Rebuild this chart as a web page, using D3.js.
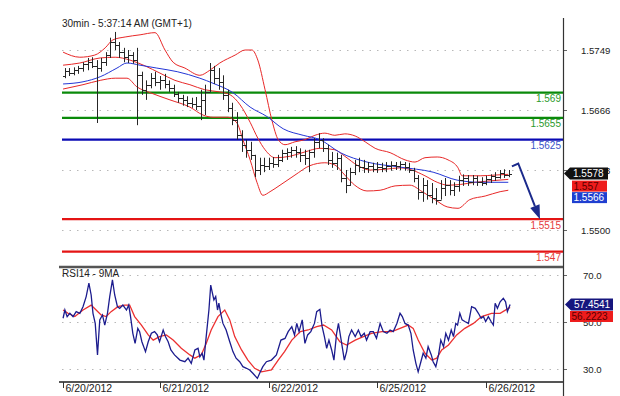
<!DOCTYPE html>
<html><head><meta charset="utf-8">
<script src="https://cdn.jsdelivr.net/npm/d3@7"></script>
<style>html,body{margin:0;padding:0;background:#fff}svg{display:block;font-family:"Liberation Sans",Arial,sans-serif}</style>
</head><body><svg id="c" width="620" height="396"></svg>
<script>
// ---- DATA (time = trading hours since 6/20/2012 00:00, weekend skipped) ----
const barHours = [3,4,5,6,7,8,9,10,11,12,13,14,15,16,17,18,19,20,21,22,23,24,25,26,27,28,29,30,31,32,33,34,35,36,37,38,39,40,41,42,43,44,45,46,47,48,49,50,51,52,53,54,55,56,57,58,59,60,61,62,63,64,65,66,67,68,69,70,71,72,73,74,75,76,77,78,79,80,81,82,83,84,85,86,87,88,89,90,91,92,93,94,95,96,97,98,99,100,101];
const barHigh = [1.5724,1.5724,1.5725,1.5727,1.5732,1.5738,1.5739,1.5735,1.5738,1.5746,
 1.5766,1.5774,1.5760,1.5752,1.5749,1.5746,1.5752,1.5719,1.5707,1.5717,
 1.5719,1.5713,1.5716,1.5707,1.5701,1.5691,1.5687,1.5685,1.5683,1.5684,
 1.5694,1.5701,1.5731,1.5727,1.5724,1.5714,1.5694,1.5676,1.5663,1.5638,
 1.5625,1.5622,1.5604,1.5600,1.5600,1.5600,1.5601,1.5604,1.5611,1.5613,
 1.5615,1.5616,1.5613,1.5611,1.5611,1.5627,1.5634,1.5627,1.5618,1.5608,
 1.5607,1.5604,1.5583,1.5586,1.5597,1.5600,1.5597,1.5594,1.5593,1.5594,
 1.5593,1.5594,1.5595,1.5594,1.5595,1.5594,1.5593,1.5586,1.5576,1.5572,
 1.5569,1.5565,1.5558,1.5569,1.5572,1.5569,1.5566,1.5575,1.5577,1.5576,
 1.5576,1.5575,1.5573,1.5575,1.5577,1.5580,1.5583,1.5584,1.5583];
const barLow = [1.5710,1.5713,1.5714,1.5716,1.5719,1.5721,1.5724,1.5648,1.5719,1.5727,
 1.5738,1.5749,1.5738,1.5732,1.5731,1.5730,1.5645,1.5687,1.5680,1.5696,
 1.5699,1.5694,1.5696,1.5691,1.5684,1.5676,1.5672,1.5670,1.5669,1.5666,
 1.5652,1.5659,1.5691,1.5702,1.5694,1.5680,1.5663,1.5645,1.5625,1.5608,
 1.5600,1.5597,1.5573,1.5576,1.5580,1.5583,1.5586,1.5587,1.5594,1.5597,
 1.5600,1.5600,1.5594,1.5590,1.5580,1.5600,1.5613,1.5608,1.5590,1.5586,
 1.5583,1.5566,1.5551,1.5561,1.5576,1.5580,1.5579,1.5579,1.5580,1.5579,
 1.5580,1.5580,1.5582,1.5583,1.5583,1.5582,1.5579,1.5566,1.5542,1.5539,
 1.5542,1.5537,1.5535,1.5542,1.5547,1.5548,1.5547,1.5553,1.5561,1.5561,
 1.5562,1.5561,1.5561,1.5562,1.5565,1.5568,1.5571,1.5572,1.5573];
const barOpen = [1.5713,1.5720,1.5717,1.5721,1.5724,1.5730,1.5732,1.5727,1.5724,1.5732,
 1.5742,1.5760,1.5756,1.5746,1.5739,1.5742,1.5735,1.5714,1.5694,1.5701,
 1.5710,1.5705,1.5707,1.5702,1.5696,1.5688,1.5683,1.5680,1.5676,1.5674,
 1.5672,1.5680,1.5691,1.5721,1.5710,1.5705,1.5687,1.5669,1.5652,1.5631,
 1.5618,1.5611,1.5604,1.5583,1.5590,1.5589,1.5593,1.5591,1.5597,1.5607,
 1.5608,1.5611,1.5608,1.5604,1.5600,1.5608,1.5622,1.5625,1.5613,1.5597,
 1.5593,1.5600,1.5572,1.5562,1.5580,1.5590,1.5587,1.5586,1.5589,1.5584,
 1.5587,1.5586,1.5589,1.5590,1.5589,1.5591,1.5587,1.5583,1.5572,1.5553,
 1.5562,1.5548,1.5544,1.5542,1.5558,1.5562,1.5555,1.5561,1.5569,1.5572,
 1.5566,1.5572,1.5566,1.5565,1.5571,1.5575,1.5573,1.5579,1.5576];
const barClose = [1.5720,1.5717,1.5721,1.5724,1.5730,1.5732,1.5727,1.5724,1.5732,1.5742,
 1.5760,1.5756,1.5746,1.5739,1.5742,1.5735,1.5714,1.5694,1.5701,1.5710,
 1.5705,1.5707,1.5702,1.5696,1.5688,1.5683,1.5680,1.5676,1.5674,1.5672,
 1.5680,1.5691,1.5721,1.5710,1.5705,1.5687,1.5669,1.5652,1.5631,1.5618,
 1.5611,1.5604,1.5583,1.5590,1.5589,1.5593,1.5591,1.5597,1.5607,1.5608,
 1.5611,1.5608,1.5604,1.5600,1.5608,1.5622,1.5625,1.5613,1.5597,1.5593,
 1.5600,1.5572,1.5562,1.5580,1.5590,1.5587,1.5586,1.5589,1.5584,1.5587,
 1.5586,1.5589,1.5590,1.5589,1.5591,1.5587,1.5583,1.5572,1.5553,1.5562,
 1.5548,1.5544,1.5542,1.5558,1.5562,1.5555,1.5561,1.5569,1.5572,1.5566,
 1.5572,1.5566,1.5565,1.5571,1.5575,1.5573,1.5579,1.5576,1.5578];

// Bollinger bands
const upperT = [2.6,6.3,9.6,11.9,13.6,16.3,19.6,22.9,25.1,26.9,29.5,32.8,35.0,37.2,40.6,42.8,44.3,45.6,47.2,48.7,50.1,51.6,53.8,56.0,58.2,60.4,62.6,64.8,67.1,69.3,71.5,74.8,78.1,80.3,82.5,85.2,87.6,89.8,90.7,94.7,98.0,100.9];
const upperV = [1.5746,1.5739,1.5742,1.5752,1.5763,1.5767,1.5770,1.5773,1.5749,1.5732,1.5724,1.5714,1.5721,1.5731,1.5742,1.5749,1.5749,1.5735,1.5694,1.5652,1.5625,1.5618,1.5622,1.5625,1.5631,1.5634,1.5631,1.5633,1.5630,1.5622,1.5613,1.5607,1.5597,1.5594,1.5600,1.5601,1.5597,1.5586,1.5575,1.5575,1.5576,1.5577];
const midT = [2.6,6.3,10.8,14.1,17.4,20.7,24.0,27.3,30.6,33.9,37.2,39.5,41.7,43.9,45.6,47.2,49.4,52.7,56.0,59.3,62.6,64.8,67.7,70.4,73.7,77.0,79.6,82.5,85.2,87.6,90.3,93.6,96.9,100.9];
const midV = [1.5728,1.5731,1.5738,1.5739,1.5735,1.5727,1.5717,1.5707,1.5701,1.5694,1.5691,1.5687,1.5673,1.5649,1.5627,1.5611,1.5600,1.5602,1.5608,1.5613,1.5611,1.5602,1.5589,1.5583,1.5584,1.5586,1.5583,1.5575,1.5566,1.5562,1.5563,1.5566,1.5568,1.5570];
const lowT = [2.6,7.0,10.8,14.1,16.7,18.9,21.8,26.2,30.6,33.5,35.7,39.0,41.0,42.3,43.9,45.4,46.7,48.3,50.5,53.8,57.1,60.4,62.6,64.8,67.0,69.7,72.6,75.9,79.2,81.9,84.7,87.4,89.8,92.4,95.8,99.1,100.9];
const lowV = [1.5695,1.5701,1.5707,1.5710,1.5710,1.5698,1.5690,1.5680,1.5670,1.5659,1.5656,1.5656,1.5648,1.5625,1.5597,1.5566,1.5548,1.5553,1.5562,1.5576,1.5589,1.5593,1.5590,1.5576,1.5562,1.5554,1.5555,1.5561,1.5562,1.5553,1.5542,1.5532,1.5530,1.5542,1.5547,1.5553,1.5555];
// longer moving average (blue)
const maT = [2.6,7.0,10.8,14.5,16.7,19.6,23.3,27.8,32.8,35.7,40.1,43.9,47.6,51.2,55.6,59.3,63.8,69.7,77.0,84.3,89.6,94.7,100.9];
const maV = [1.5702,1.5705,1.5712,1.5724,1.5731,1.5728,1.5724,1.5719,1.5710,1.5703,1.5690,1.5670,1.5657,1.5640,1.5631,1.5625,1.5607,1.5594,1.5587,1.5580,1.5569,1.5566,1.5566];

// horizontal levels
const levelValues = [1.569, 1.5655, 1.5625, 1.5515, 1.547];
const levelLabels = ["1.569", "1.5655", "1.5625", "1.5515", "1.547"];
const levelKinds = ["resistance","resistance","pivot","support","support"];
// forecast arrow (time, price)
const arrowT = [101.7, 103.1, 107.9];
const arrowV = [1.5588, 1.5592, 1.5515];

// price axis
const priceTicks = [1.5749, 1.5666, 1.5583, 1.5500];
const priceTickLabels = ["1.5749", "1.5666", "1.5583", "1.5500"];

// RSI 14 and its 9MA
const rsiT = [2.6,3.0,3.5,4.1,4.8,5.5,6.3,7.0,7.7,8.3,
 8.8,9.2,9.7,10.2,10.7,11.3,11.8,12.4,12.9,13.5,
 14.0,14.6,15.1,15.8,16.6,17.1,17.5,18.0,18.5,19.1,
 19.5,20.0,20.8,21.4,22.1,22.8,23.4,23.9,24.7,25.2,
 25.8,26.4,27.2,28.4,29.5,30.2,30.9,31.7,32.4,32.8,
 33.3,33.7,34.2,34.8,35.2,35.5,35.9,36.3,36.7,37.0,
 37.4,37.9,38.6,39.4,40.1,40.8,41.6,42.3,43.1,43.8,
 44.5,45.5,46.0,46.7,47.5,48.6,49.7,50.7,51.6,52.3,
 53.1,53.7,54.2,54.7,55.4,56.0,56.6,57.3,58.1,58.6,
 59.3,59.8,60.3,60.8,61.3,61.9,62.4,63.0,63.4,64.0,
 64.7,65.2,65.7,66.3,67.1,67.8,68.4,69.1,69.6,70.4,
 71.1,71.8,72.6,73.3,74.1,74.8,75.5,76.3,77.0,77.5,
 78.1,78.8,79.4,79.9,80.5,81.0,81.6,82.1,82.7,83.2,
 83.9,84.3,84.9,85.5,86.0,86.6,87.1,87.7,88.3,88.8,
 89.3,89.7,90.2,90.7,91.3,92.1,92.8,93.6,94.3,94.9,
 95.4,95.9,96.5,97.1,97.6,98.0,98.5,99.1,99.8,100.3,
 100.7,101.3];
const rsiV = [51.6,55.1,52.3,53.7,52.3,54.4,53.7,56.5,60.8,66.5,
 61.5,53.7,49.4,36.0,50.9,53.0,48.7,53.7,60.8,67.9,
 61.5,56.5,55.8,57.2,55.1,57.2,52.3,45.2,40.9,47.3,
 45.9,41.6,37.4,41.6,45.2,45.9,44.5,41.6,46.6,43.8,
 41.6,38.1,36.0,33.8,33.1,34.6,32.4,38.1,38.8,35.2,
 36.7,33.8,43.8,55.1,65.7,62.9,59.4,60.8,55.1,58.0,
 53.7,49.4,46.6,41.6,37.4,34.6,33.1,31.0,30.3,29.6,
 28.2,26.0,28.2,31.0,33.1,33.8,36.0,42.3,43.0,45.9,
 48.0,44.5,49.4,45.9,50.9,40.9,44.5,45.9,49.4,54.4,
 55.4,48.0,43.8,38.8,42.3,38.1,33.8,45.2,49.4,42.3,
 33.8,37.4,43.8,46.6,43.8,46.6,43.8,45.2,42.3,45.9,
 45.9,43.1,49.4,45.9,45.2,46.6,45.9,49.4,53.7,52.3,
 49.4,48.7,45.2,38.1,32.4,28.8,33.1,36.7,34.6,39.5,
 36.0,33.1,31.0,36.0,42.3,39.5,45.2,42.3,46.6,43.8,
 49.4,48.7,53.7,50.9,50.2,49.4,56.5,55.8,53.7,51.6,
 52.3,50.2,52.3,50.2,48.7,58.0,55.8,58.6,60.1,58.6,
 54.4,57.4541];
const rsiMaT = [2.6,3.7,5.2,7.0,8.8,9.9,11.0,12.1,13.2,14.7,16.2,17.3,18.4,19.9,21.4,22.5,23.9,25.4,26.9,28.7,30.6,31.7,33.1,34.2,35.3,36.8,38.3,39.4,40.5,42.0,43.4,44.9,46.4,48.6,50.1,51.5,53.1,55.0,56.7,58.6,60.1,61.9,63.7,65.2,67.1,68.9,70.7,73.0,75.2,77.0,78.8,79.9,81.0,82.5,84.0,85.1,86.2,87.7,89.5,91.3,93.2,95.0,97.2,99.1,100.9,101.3];
const rsiMaV = [55.1,53.7,52.3,55.1,57.2,55.1,53.0,52.3,54.4,56.5,57.2,57.2,52.3,48.7,44.5,42.3,43.8,44.5,42.3,38.8,36.0,34.6,36.0,40.9,46.6,52.3,55.1,50.9,43.8,38.1,33.8,30.3,28.8,29.6,33.8,37.4,42.3,45.9,46.6,48.0,48.7,46.6,41.6,40.2,42.3,43.8,45.2,45.9,45.9,47.3,48.7,47.3,42.3,36.7,33.8,34.6,38.1,40.2,44.5,47.3,49.4,52.3,53.7,53.7,55.8,56.2223];
const rsiTicks = [70, 50, 30];
const rsiTickLabels = ["70.0", "50.0", "30.0"];

// date axis
const dateLabels = ["6/20/2012","6/21/2012","6/22/2012","6/25/2012","6/26/2012"];
const dateHours = [2.5, 24, 48, 72, 96];

const titleText = "30min - 5:37:14 AM (GMT+1)";
const rsiTitle = "RSI14 - 9MA";

// ---- LAYOUT / STYLE ----
const L = 62, R = 563;
const FONT = 10;
const col = {resistance:"#0a8a0a", pivot:"#0a0ab4", support:"#e41414"};
const labCol = {resistance:"#2c9a2c", pivot:"#3a52c8", support:"#e53a3a"};

const svg = d3.select("#c");
svg.append("rect").attr("width",620).attr("height",396).attr("fill","#fff");

const x = d3.scaleLinear().domain([0, 96]).range([51.3, 486.1]);
const yP = d3.scaleLinear().domain([1.5500, 1.5749]).range([230, 50]);
const yR = d3.scaleLinear().domain([30, 70]).range([369, 275]);

const defs = svg.append("defs");
defs.append("clipPath").attr("id","cm").append("rect").attr("x",L).attr("y",18).attr("width",R-L).attr("height",248);
defs.append("clipPath").attr("id","cr").append("rect").attr("x",L).attr("y",268).attr("width",R-L).attr("height",113);

// title
svg.append("text").attr("x",62).attr("y",27).attr("font-size",FONT).attr("fill","#222").text(titleText);

// price grid + axis labels
const gP = svg.append("g");
priceTicks.forEach((t,i)=>{
  const yy = Math.round(yP(t))+0.5;
  gP.append("line").attr("x1",L).attr("x2",R-3).attr("y1",yy).attr("y2",yy)
    .attr("stroke","#b8b8b8").attr("stroke-dasharray","1.5,6");
  gP.append("line").attr("x1",R).attr("x2",R+4).attr("y1",yy).attr("y2",yy).attr("stroke","#666");
  gP.append("text").attr("x",581).attr("y",yy+3.5).attr("font-size",9.6).attr("fill","#222").text(priceTickLabels[i]);
});

// main plot group (clipped)
const gM = svg.append("g").attr("clip-path","url(#cm)");
levelValues.forEach((v,i)=>{
  const yy = yP(v);
  gM.append("line").attr("x1",L).attr("x2",R).attr("y1",yy).attr("y2",yy)
    .attr("stroke",col[levelKinds[i]]).attr("stroke-width",2.2);
});
const lineP = (T,V)=> d3.line().x((d,i)=>x(T[i])).y((d,i)=>yP(V[i])).curve(d3.curveMonotoneX)(T);
[[upperT,upperV],[midT,midV],[lowT,lowV]].forEach(([T,V])=>{
  gM.append("path").attr("d",lineP(T,V)).attr("fill","none").attr("stroke","#e82828").attr("stroke-width",1);
});
gM.append("path").attr("d",lineP(maT,maV)).attr("fill","none").attr("stroke","#2436d6").attr("stroke-width",1);

// OHLC bars
const bars = barHours.map((h,i)=>({h, o:barOpen[i], hi:barHigh[i], lo:barLow[i], c:barClose[i]}));
gM.append("g").selectAll("path").data(bars).join("path")
  .attr("d", d=>{
    const xx = Math.round(x(d.h))+0.5;
    const yo = Math.round(yP(d.o))+0.5, yc = Math.round(yP(d.c))+0.5;
    return `M${xx},${yP(d.hi)}V${yP(d.lo)}M${xx-2.5},${yo}H${xx}M${xx},${yc}H${xx+2.5}`;
  })
  .attr("stroke","#262626").attr("stroke-width",1).attr("fill","none");

// level labels
levelValues.forEach((v,i)=>{
  svg.append("text").attr("x",561).attr("y",yP(v)+9.5).attr("text-anchor","end")
    .attr("font-size",FONT).attr("fill",labCol[levelKinds[i]]).text(levelLabels[i]);
});

// forecast arrow
const arrowCol = "#1b2a8c";
const ap = arrowT.map((t,i)=>[x(t), yP(arrowV[i])]);
const n = ap.length, tip = ap[n-1], prev = ap[n-2];
const ang = Math.atan2(tip[1]-prev[1], tip[0]-prev[0]);
const hl = 14, hw = 5;
const base = [tip[0]-hl*Math.cos(ang), tip[1]-hl*Math.sin(ang)];
svg.append("path").attr("d", d3.line()([ap[0],ap[1],base])).attr("fill","none")
  .attr("stroke",arrowCol).attr("stroke-width",2);
svg.append("path").attr("d", d3.line()([
  tip,
  [base[0]+hw*Math.sin(ang), base[1]-hw*Math.cos(ang)],
  [base[0]-hw*Math.sin(ang), base[1]+hw*Math.cos(ang)]
])+"Z").attr("fill",arrowCol);

// RSI panel grid
const gR = svg.append("g");
rsiTicks.forEach((t,i)=>{
  const yy = Math.round(yR(t))+0.5;
  gR.append("line").attr("x1",L).attr("x2",R-3).attr("y1",yy).attr("y2",yy)
    .attr("stroke","#b8b8b8").attr("stroke-dasharray","1.5,6");
  gR.append("line").attr("x1",R).attr("x2",R+4).attr("y1",yy).attr("y2",yy).attr("stroke","#666");
  gR.append("text").attr("x",583).attr("y",yy+3.5).attr("font-size",9.6).attr("fill","#222").text(rsiTickLabels[i]);
});
svg.append("text").attr("x",62).attr("y",277).attr("font-size",FONT).attr("fill","#222").text(rsiTitle);

const gRc = svg.append("g").attr("clip-path","url(#cr)");
const lineR = (T,V)=> d3.line().x((d,i)=>x(T[i])).y((d,i)=>yR(V[i]))(T);
gRc.append("path").attr("d",lineR(rsiMaT,rsiMaV)).attr("fill","none").attr("stroke","#ec3030").attr("stroke-width",1.3);
gRc.append("path").attr("d",lineR(rsiT,rsiV)).attr("fill","none").attr("stroke","#1c1c8e").attr("stroke-width",1.3);

// frame lines
svg.append("line").attr("x1",R+0.5).attr("x2",R+0.5).attr("y1",18).attr("y2",396).attr("stroke","#333").attr("stroke-width",1.2);
svg.append("line").attr("x1",59).attr("x2",R).attr("y1",267).attr("y2",267).attr("stroke","#555").attr("stroke-width",2.5);
svg.append("line").attr("x1",59).attr("x2",R).attr("y1",382).attr("y2",382).attr("stroke","#555").attr("stroke-width",2);

// date axis
dateHours.forEach((h,i)=>{
  const xx = Math.round(x(h))+0.5;
  svg.append("line").attr("x1",xx).attr("x2",xx).attr("y1",382).attr("y2",388).attr("stroke","#333");
  svg.append("text").attr("x",xx+2).attr("y",391.5).attr("font-size",10.5).attr("fill","#222").text(dateLabels[i]);
});

// value tags
function tag(yc, text, fill, txtCol, tipX, boxX, boxR){
  const h = 6;
  if (tipX !== null){
    svg.append("path").attr("d",`M${tipX},${yc}L${boxX},${yc-h}H${boxR}V${yc+h}H${boxX}Z`).attr("fill",fill);
  } else {
    svg.append("rect").attr("x",boxX).attr("y",yc-5.5).attr("width",boxR-boxX).attr("height",11).attr("fill",fill);
  }
  svg.append("text").attr("x",boxX+ (tipX!==null?3:1.5)).attr("y",yc+3.6).attr("font-size",FONT).attr("fill",txtCol).text(text);
}
const lastClose = barClose[barClose.length-1];
const lastMid = midV[midV.length-1];
const lastMa = maV[maV.length-1];
const yC = yP(lastClose);
tag(yC, lastClose.toFixed(4), "#111", "#fff", 564, 570, 608);
tag(yC+12.5, lastMid.toFixed(3), "#ee1c1c", "#5a0000", null, 572, 607);
tag(yC+24, lastMa.toFixed(4), "#1f3fd0", "#fff", null, 572, 607);

const lastRsi = rsiV[rsiV.length-1], lastRsiMa = rsiMaV[rsiMaV.length-1];
const yRs = yR(lastRsi);
tag(yRs, lastRsi.toFixed(4), "#16167e", "#fff", 565, 571, 613);
tag(yRs+12, lastRsiMa.toFixed(4), "#ee1c1c", "#5a0000", null, 570, 613);
</script>
</body></html>
